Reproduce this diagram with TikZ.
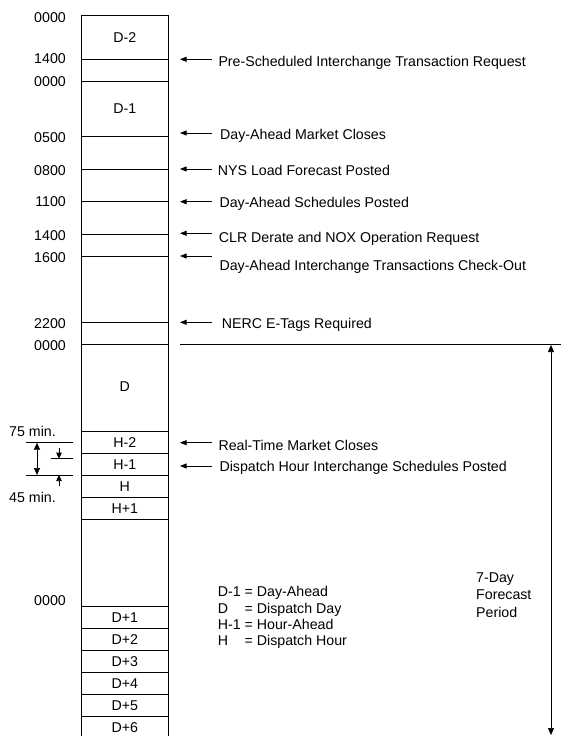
\documentclass[tikz,border=0pt]{standalone}
\usepackage{fontspec}
\setmainfont{Liberation Sans}
\usetikzlibrary{arrows.meta}
\begin{document}
\begin{tikzpicture}[x=1pt,y=-1pt,
  font=\fontsize{14.2}{16.2}\selectfont,
  rule/.style={line width=0.8pt},
  base/.style={inner sep=0pt, text height=10.2pt, text depth=0pt},
  lab/.style={base, anchor=east},
  row/.style={base, anchor=center},
  txt/.style={base, anchor=west},
  ptr/.style={-{Triangle[length=6.5pt,width=5pt]}, line width=0.7pt},
  dbl/.style={{Triangle[length=7pt,width=6pt]}-{Triangle[length=7pt,width=6pt]}, line width=0.7pt},
  sml/.style={-{Triangle[length=6pt,width=5.5pt]}, line width=0.7pt}]
\useasboundingbox (0,0) rectangle (561,736);

% timeline column
\foreach \y in {15,59,81,136,169,201.7,234,256,322,344,431.7,453,475,497,519,606.7,628,650,672,694,716}
  \draw[rule] (81,\y) -- (168.5,\y);
\draw[rule] (81,15) -- (81,736);
\draw[rule] (168.5,15) -- (168.5,736);

% times on the left
\foreach \y/\t [count=\i] in {17.3/0000,58/1400,81/0000,137/0500,170/0800,201.7/1100,235/1400,257.7/1600,323/2200,345/0000,600.7/0000}
  \node[lab] (time\i) at (66,\y) {\t};

% row labels
\foreach \y/\t [count=\i] in {37/D-2,108/D-1,386/D,442.7/H-2,464/H-1,486.7/H,508/H+1,617.7/D+1,639/D+2,661/D+3,683/D+4,705/D+5,727/D+6}
  \node[row] (rowl\i) at (124.8,\y) {\t};

% events
\foreach \ay/\tx/\ty/\t [count=\i] in {
  59.3/218.3/61.7/Pre-Scheduled Interchange Transaction Request,
  133/220/134/Day-Ahead Market Closes,
  169/217.7/170/NYS Load Forecast Posted,
  201.7/219.3/202/Day-Ahead Schedules Posted,
  233.3/218.7/237.3/CLR Derate and NOX Operation Request,
  256/219.3/265.7/Day-Ahead Interchange Transactions Check-Out,
  322.3/221.7/323.3/NERC E-Tags Required,
  442.7/218.3/445/Real-Time Market Closes,
  466/219.3/466/Dispatch Hour Interchange Schedules Posted}
{
  \node[txt] (ev\i) at (\tx,\ty) {\t};
  \coordinate (evs\i) at (212,\ay);
  \coordinate (evt\i) at (180,\ay);
  \draw[ptr] (evs\i) -- (evt\i);
}

% forecast period
\coordinate (fl) at (180,344);
\coordinate (fr) at (561,344);
\draw[rule] (fl) -- (fr);
\coordinate (ftop) at (551,345);
\coordinate (fbot) at (551,735);
\draw[dbl] (ftop) -- (fbot);
\node[txt] (fc1) at (476,577.3) {7-Day};
\node[txt] (fc2) at (476,594.6) {Forecast};
\node[txt] (fc3) at (476,612.3) {Period};

% legend
\node[txt] (lg1) at (217.7,591.7) {D-1 = Day-Ahead};
\node[txt] (lg2) at (217.7,607.9) {D\hphantom{-1} = Dispatch Day};
\node[txt] (lg3) at (217.7,624.1) {H-1 = Hour-Ahead};
\node[txt] (lg4) at (217.7,640.3) {H\hphantom{-1} = Dispatch Hour};

% 75 / 45 min bracket
\node[row] (m75) at (32.5,431) {75 min.};
\node[row] (m45) at (32.5,497) {45 min.};
\coordinate (b1l) at (26,442.7);  \coordinate (b1r) at (73,442.7);
\coordinate (b2l) at (51,458.7);  \coordinate (b2r) at (73,458.7);
\coordinate (b3l) at (26,475);    \coordinate (b3r) at (73,475);
\draw[line width=0.7pt] (b1l) -- (b1r);
\draw[line width=0.7pt] (b2l) -- (b2r);
\draw[line width=0.7pt] (b3l) -- (b3r);
\coordinate (v1) at (37,442.7); \coordinate (v2) at (37,475);
\draw[dbl] (v1) -- (v2);
\coordinate (s1a) at (59,447.5); \coordinate (s1b) at (59,458.7);
\draw[sml] (s1a) -- (s1b);
\coordinate (s2a) at (59,486); \coordinate (s2b) at (59,475);
\draw[sml] (s2a) -- (s2b);
\end{tikzpicture}
\end{document}
